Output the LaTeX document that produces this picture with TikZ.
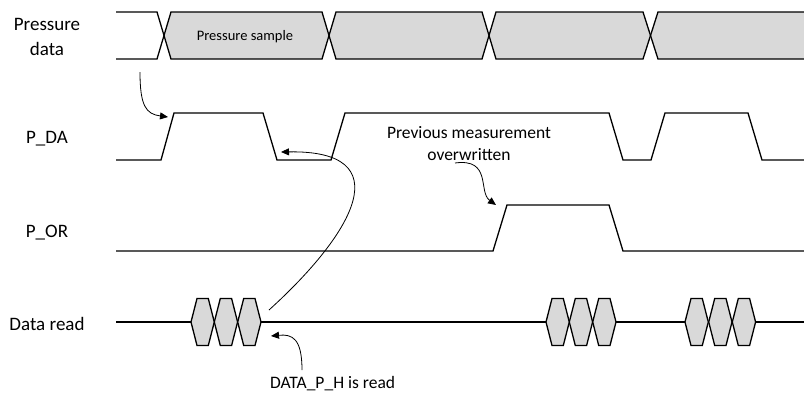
\documentclass[tikz,border=0pt]{standalone}
\usepackage{fontspec}
\setmainfont{Carlito}
\usetikzlibrary{arrows.meta}
\begin{document}
\begin{tikzpicture}[x=1pt,y=-1pt,
  wave/.style={line width=1.3pt, line join=miter},
  busfill/.style={fill=black!15, draw=none},
  ann/.style={-{Triangle[length=8pt,width=7pt]}, line width=0.8pt},
  lbl/.style={font=\fontsize{19}{23}\selectfont, anchor=base, inner sep=0},
  note/.style={font=\fontsize{17.5}{22}\selectfont, anchor=base, inner sep=0},
  hexpic/.pic={\filldraw[wave, fill=black!15] (0,0) -- (6,-23.5) -- (17.3,-23.5) -- (23.3,0) -- (17.3,23.5) -- (6,23.5) -- cycle;}]
\useasboundingbox (0,0) rectangle (804,394);

% signal labels
\node[lbl] (lp1) at (47,30) {Pressure};
\node[lbl] (lp2) at (47,55) {data};
\node[lbl] (lda) at (47,143) {P\_DA};
\node[lbl] (lor) at (47,237) {P\_OR};
\node[lbl] (ldr) at (47,330) {Data read};

% pressure data bus
\fill[busfill] (164,35.5) -- (171,12) -- (322,12) -- (329,35.5) -- (322,59) -- (171,59) -- cycle;
\fill[busfill] (329,35.5) -- (336,12) -- (482,12) -- (489,35.5) -- (482,59) -- (336,59) -- cycle;
\fill[busfill] (489,35.5) -- (496,12) -- (643,12) -- (650.5,35.5) -- (643,59) -- (496,59) -- cycle;
\fill[busfill] (650.5,35.5) -- (658,12) -- (804,12) -- (804,59) -- (658,59) -- cycle;
\draw[wave] (116,12) -- (157,12) -- (171,59) -- (322,59) -- (336,12) -- (482,12) -- (496,59) -- (643,59) -- (658,12) -- (804,12);
\draw[wave] (116,59) -- (157,59) -- (171,12) -- (322,12) -- (336,59) -- (482,59) -- (496,12) -- (643,12) -- (658,59) -- (804,59);
\node[font=\fontsize{14.5}{17}\selectfont, anchor=base, inner sep=0] (ps) at (245,40.5) {Pressure sample};

% P_DA
\draw[wave] (116,160) -- (161,160) -- (174,113) -- (263,113) -- (277,160) -- (331,160) -- (345,113) -- (609,113) -- (623,160) -- (651,160) -- (665,113) -- (748,113) -- (762,160) -- (804,160);

% P_OR
\draw[wave] (116,251) -- (493,251) -- (507,205) -- (609,205) -- (623,251) -- (804,251);

% Data read
\draw[wave] (116,322) -- (191,322);
\draw[wave] (260,322) -- (546,322);
\draw[wave] (616,322) -- (685,322);
\draw[wave] (756,322) -- (804,322);
\foreach \x in {191,214.3,237.7,546,569.3,592.7,685,708.7,732.3}
  \pic at (\x,322) {hexpic};

% annotations
\node[note, align=center] (pm) at (469,138) {Previous measurement};
\node[note] (ow) at (469,160) {overwritten};
\node[note, anchor=base west] (dr) at (270,388) {DATA\_P\_H is read};

\coordinate (a1s) at (140,72);
\coordinate (a1e) at (168,117);
\coordinate (a2s) at (269,310);
\coordinate (a2e) at (281,152);
\coordinate (a3s) at (455,163);
\coordinate (a3e) at (496,205);
\coordinate (a4s) at (302,370);
\coordinate (a4e) at (271,336);

\draw[ann] (a1s) .. controls (140,106) and (146,114) .. (a1e);
\draw[ann] (a2s) .. controls (355,232) and (400,150) .. (a2e);
\draw[ann] (a3s) .. controls (492,158) and (478,192) .. (a3e);
\draw[ann] (a4s) .. controls (302,338) and (292,334) .. (a4e);
\end{tikzpicture}
\end{document}
